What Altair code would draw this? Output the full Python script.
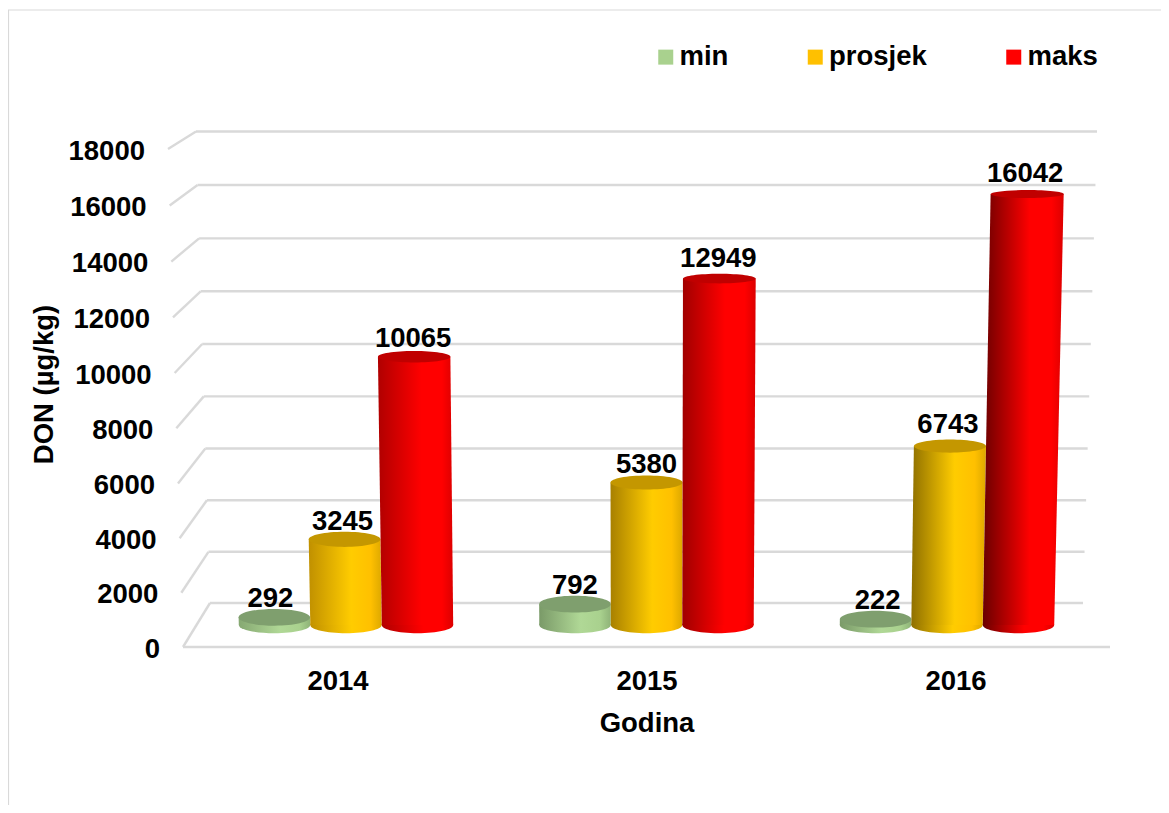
import altair as alt
import pandas as pd

FONT = "Liberation Sans"
FS = 27.5

years = [2014, 2015, 2016]
series = ["min", "prosjek", "maks"]
values = {
    "min": [292, 792, 222],
    "prosjek": [3245, 5380, 6743],
    "maks": [10065, 12949, 16042],
}
legend_colors = ["#A9D18E", "#FFC000", "#FF0000"]
cap_colors = ["#7F9F6E", "#C49700", "#C00000"]
left_shades = {
    "min": ["#86A872", "#7A9A68", "#7A9A68"],
    "prosjek": ["#C09000", "#A88000", "#8F7000"],
    "maks": ["#B00000", "#A00000", "#6A0000"],
}
mid_shades = ["#B0D896", "#FFCC00", "#FF0000"]
side_shades = ["#A9D18E", "#FFC000", "#FF0000"]
right_shades = ["#8FB378", "#DDA800", "#DC0000"]
grid_values = list(range(0, 20000, 2000))
# small hand placement of the value labels (dx, dy)
label_nudge = {
    "min": [(-2, 2), (2, 2), (4, 2)],
    "prosjek": [(0, 3), (2, 3), (0, -1)],
    "maks": [(1, 2), (1, 0), (0, 0)],
}

# view geometry of the reference's 3-D box
PW, PH = 927, 498
X0, Y0 = 183, 647
Y_MAX = 18000


def y_eq(v, base, a, b=3.5e-8):
    """height above the front floor line -> value on the chart's y scale"""
    return (base + a * v + b * v * v) * Y_MAX / PH


def front_y(v):
    return y_eq(v, 0, 0.02707, 3.3e-8)


def back_y(v):
    return y_eq(v, 44, 0.02553, 3.7e-8)


def bar_y(v):
    return y_eq(v, 22, 0.0263)


def x_eq(px):
    return 2013.5 + (px - X0) / PW * 3


xs = alt.Scale(domain=[2013.5, 2016.5], nice=False, zero=False)
ys = alt.Scale(domain=[0, Y_MAX], nice=False, zero=False)

x_axis = alt.Axis(values=years, format="d", title="Godina", domain=False, ticks=False,
                  grid=False, labelFont=FONT, labelFontSize=FS, labelFontWeight="bold",
                  labelColor="#000", labelPadding=20, labelFlush=False, titleFont=FONT,
                  titleFontSize=FS, titleFontWeight="bold", titleColor="#000", titlePadding=15)
y_axis = alt.Axis(labels=False, domain=False, ticks=False, grid=False, title="DON (µg/kg)",
                  titleFont=FONT, titleFontSize=FS, titleFontWeight="bold", titleColor="#000",
                  titleX=-125, titleY=235)


def X(f):
    return alt.X(f"{f}:Q", scale=xs, axis=x_axis)


def Y(f):
    return alt.Y(f"{f}:Q", scale=ys, axis=y_axis)


layers = []

# frame
frame_df = pd.DataFrame({"a": [0]})
layers.append(alt.Chart(frame_df).mark_rule(color="#D9D9D9", strokeWidth=1.2).encode(
    x=alt.value(-174.5), x2=alt.value(-174.5), y=alt.value(-139), y2=alt.value(664)))
layers.append(alt.Chart(frame_df).mark_rule(color="#D9D9D9", strokeWidth=1.2).encode(
    x=alt.value(-175), x2=alt.value(986), y=alt.value(-139), y2=alt.value(-139)))

# walls and floor
rows = []
for v in grid_values:
    bl = 210 - 14 * v / Y_MAX
    br = 1083 + 14 * v / Y_MAX
    fl = 183 - 15 * v / Y_MAX
    rows.append(dict(x=x_eq(bl), x2=x_eq(br), y=back_y(v), y2=back_y(v)))
    rows.append(dict(x=x_eq(fl), x2=x_eq(bl), y=front_y(v), y2=back_y(v)))
rows.append(dict(x=x_eq(183), x2=x_eq(1110), y=0, y2=0))
layers.append(alt.Chart(pd.DataFrame(rows)).mark_rule(color="#D9D9D9", strokeWidth=2.4).encode(
    x=X("x"), x2="x2", y=Y("y"), y2="y2"))

# y tick labels, following the slanted front edge
tick_df = pd.DataFrame([
    dict(x=x_eq(183 - 15 * v / Y_MAX - 23), y=front_y(v), t=str(v)) for v in grid_values
])
layers.append(alt.Chart(tick_df).mark_text(font=FONT, fontSize=FS, fontWeight="bold", align="right",
                                           baseline="middle", dy=2.5, color="#000").encode(
    x=X("x"), y=Y("y"), text="t:N"))


def ellipse(ry_over_rx):
    r = round(ry_over_rx, 4)
    return f"M-1,0A1,{r},0,1,1,1,0A1,{r},0,1,1,-1,0Z"


def gradient(c0, c1, c2, c3):
    return alt.LinearGradient(
        gradient="linear", x1=0, x2=1, y1=0, y2=0,
        stops=[alt.GradientStop(color=c0, offset=0), alt.GradientStop(color=c1, offset=0.58),
               alt.GradientStop(color=c2, offset=0.85), alt.GradientStop(color=c3, offset=1)])


CX = 646.5
YEAR_STEP = 300.5
SER_STEP = 71.5
HALF = 35.7
labels = []
for i, yr in enumerate(years):
    for s, name in enumerate(series):
        v = values[name][i]
        base_px = CX + (i - 1) * YEAR_STEP + (s - 1) * SER_STEP
        grow = 1 + 1.45e-6 * v
        top_px = CX + (base_px - CX) * grow
        half_top = HALF * grow
        grad = gradient(left_shades[name][i], mid_shades[s], side_shades[s], right_shades[s])
        body = pd.DataFrame({
            "l": [x_eq(base_px - HALF), x_eq(top_px - half_top)],
            "r": [x_eq(base_px + HALF), x_eq(top_px + half_top)],
            "y": [bar_y(0), bar_y(v)],
        })
        ry_top = 8.5 - 0.00028 * v
        bottom = pd.DataFrame({"x": [x_eq(base_px)], "y": [bar_y(0)],
                               "p": [ellipse(8.2 / HALF)], "s": [(2 * HALF) ** 2]})
        top = pd.DataFrame({"x": [x_eq(top_px)], "y": [bar_y(v)],
                            "p": [ellipse(ry_top / half_top)], "s": [(2 * half_top) ** 2]})
        layers.append(alt.Chart(bottom).mark_point(filled=True, fill=grad, opacity=1, strokeWidth=0).encode(
            x=X("x"), y=Y("y"), shape=alt.Shape("p:N", scale=None, legend=None),
            size=alt.Size("s:Q", scale=None, legend=None)))
        layers.append(alt.Chart(body).mark_area(orient="horizontal", fill=grad, opacity=1).encode(
            x=X("l"), x2="r", y=Y("y")))
        layers.append(alt.Chart(top).mark_point(filled=True, fill=cap_colors[s], opacity=1, strokeWidth=0).encode(
            x=X("x"), y=Y("y"), shape=alt.Shape("p:N", scale=None, legend=None),
            size=alt.Size("s:Q", scale=None, legend=None)))
        ndx, ndy = label_nudge[name][i]
        labels.append(dict(x=x_eq(top_px - 2 + ndx), y=bar_y(v) + ndy * -1 * Y_MAX / PH, t=str(v)))

label_df = pd.DataFrame(labels)
layers.append(alt.Chart(label_df).mark_text(font=FONT, fontSize=FS, fontWeight="bold", align="center",
                                            baseline="middle", dy=-20, color="#000").encode(
    x=X("x"), y=Y("y"), text="t:N"))

# legend
legend_df = pd.DataFrame({"serija": series, "x": [2015.0] * 3, "y": [0.0] * 3})
layers.append(alt.Chart(legend_df).mark_square(size=0, opacity=1).encode(
    x=X("x"), y=Y("y"),
    color=alt.Color("serija:N", scale=alt.Scale(domain=series, range=legend_colors),
                    legend=alt.Legend(orient="none", legendX=469, legendY=-106, direction="horizontal",
                                      title=None, columnPadding=72.5, symbolType="square", symbolSize=225,
                                      symbolOpacity=1, labelOffset=0, labelFont=FONT, labelFontSize=FS,
                                      labelFontWeight="bold", labelColor="#000", symbolStrokeWidth=0,
                                      labelLimit=300))))

chart = alt.layer(*layers).properties(
    width=PW, height=PH,
    autosize=alt.AutoSizeParams(type="none"),
    padding={"left": 175, "top": 141, "right": 51, "bottom": 158},
    background="#FFFFFF",
).configure_view(stroke=None)

chart.save("out.html", embed_options={"renderer": "svg", "actions": False})
